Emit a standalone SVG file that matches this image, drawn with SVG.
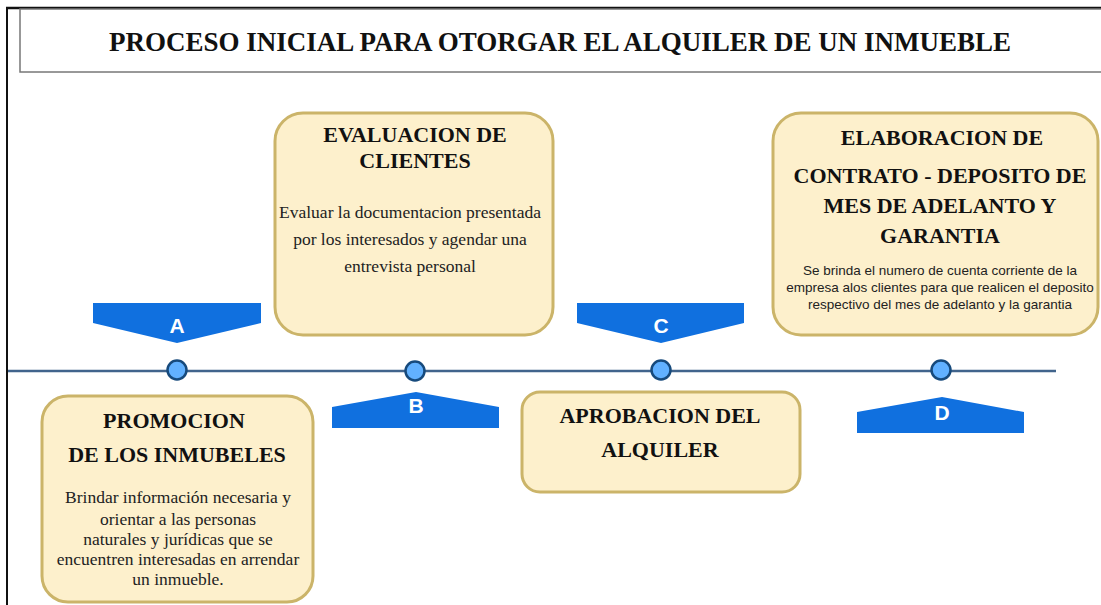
<svg xmlns="http://www.w3.org/2000/svg" width="1101" height="605" viewBox="0 0 1101 605">
<style>
.box{fill:#fdf0cc;stroke:#cbb469;stroke-width:3}
.tag{fill:#1070df}
.dot{fill:#62b1ff;stroke:#174a7c;stroke-width:2.5}
.lt{font-family:"Liberation Sans",Arial,sans-serif;font-weight:bold;font-size:21px;fill:#fff;text-anchor:middle}
.h{font-family:"Liberation Serif","Times New Roman",serif;font-weight:bold;font-size:22px;fill:#111;text-anchor:middle}
.b{font-family:"Liberation Serif","Times New Roman",serif;font-size:17.5px;fill:#222;text-anchor:middle}
.s{font-family:"Liberation Sans",Arial,sans-serif;font-size:13.5px;fill:#222;text-anchor:middle}
</style>
<rect width="1101" height="605" fill="#fff"/>
<g id="frame">
<line x1="6" y1="8" x2="1101" y2="8" stroke="#111" stroke-width="2.5"/>
<line x1="7" y1="8" x2="7" y2="605" stroke="#111" stroke-width="2"/>
<rect x="20" y="9" width="1090" height="63" fill="#fff" stroke="#777" stroke-width="1.5"/>
<text x="560" y="51" font-family="'Liberation Serif','Times New Roman',serif" font-weight="bold" font-size="27" text-anchor="middle" fill="#111">PROCESO INICIAL PARA OTORGAR EL ALQUILER DE UN INMUEBLE</text>
</g>
<g id="connectors">
<line x1="8" y1="371" x2="1056" y2="371" stroke="#41648c" stroke-width="2.5"/>
</g>
<g id="tagA">
<polygon class="tag" points="93,303 261,303 261,323 177,343 93,323"/>
<text class="lt" x="177" y="333">A</text>
<circle class="dot" cx="177" cy="370" r="9.5"/>
</g>
<g id="tagB">
<polygon class="tag" points="332,428 499,428 499,407 416,392 332,407"/>
<text class="lt" x="416" y="413">B</text>
<circle class="dot" cx="415" cy="371" r="9.5"/>
</g>
<g id="tagC">
<polygon class="tag" points="577,303 744,303 744,323 661,343 577,323"/>
<text class="lt" x="661" y="333">C</text>
<circle class="dot" cx="661" cy="370" r="9.5"/>
</g>
<g id="tagD">
<polygon class="tag" points="857,433 1024,433 1024,412 942,397 857,412"/>
<text class="lt" x="942" y="420">D</text>
<circle class="dot" cx="941" cy="370" r="9.5"/>
</g>
<g id="promocion">
<rect class="box" x="42" y="396" width="271" height="206" rx="26"/>
<text class="h" x="174" y="428">PROMOCION</text>
<text class="h" x="177" y="462">DE LOS INMUBELES</text>
<text class="b" x="178" y="503">Brindar información necesaria y</text>
<text class="b" x="178" y="525">orientar a las personas</text>
<text class="b" x="178" y="545">naturales y  jurídicas que se</text>
<text class="b" x="178" y="565">encuentren interesadas en arrendar</text>
<text class="b" x="178" y="585">un inmueble.</text>
</g>
<g id="evaluacion">
<rect class="box" x="275" y="113" width="278" height="222" rx="28"/>
<text class="h" x="415" y="142">EVALUACION DE</text>
<text class="h" x="415" y="168">CLIENTES</text>
<text class="b" x="410" y="218">Evaluar la documentacion presentada</text>
<text class="b" x="410" y="245">por los interesados y  agendar una</text>
<text class="b" x="410" y="272">entrevista personal</text>
</g>
<g id="aprobacion">
<rect class="box" x="522" y="392" width="278" height="100" rx="18"/>
<text class="h" x="660" y="423">APROBACION DEL</text>
<text class="h" x="660" y="457">ALQUILER</text>
</g>
<g id="elaboracion">
<rect class="box" x="773" y="113" width="325" height="222" rx="28"/>
<text class="h" x="942" y="145">ELABORACION DE</text>
<text class="h" x="940" y="183">CONTRATO - DEPOSITO DE</text>
<text class="h" x="940" y="213">MES DE ADELANTO Y</text>
<text class="h" x="940" y="243">GARANTIA</text>
<text class="s" x="940" y="275">Se brinda el numero de cuenta corriente de la</text>
<text class="s" x="940" y="292">empresa alos clientes para que realicen el deposito</text>
<text class="s" x="940" y="309">respectivo del mes de adelanto y la garantia</text>
</g>
</svg>
